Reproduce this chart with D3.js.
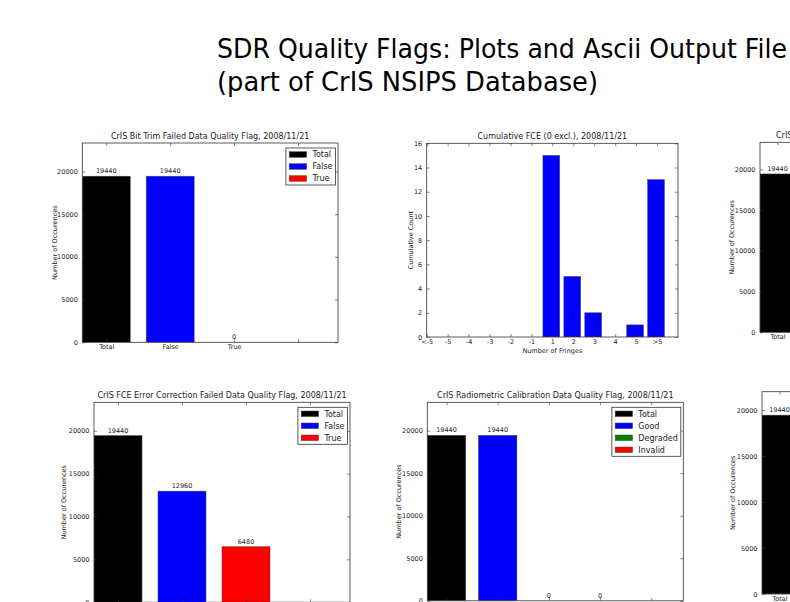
<!DOCTYPE html>
<html>
<head>
<meta charset="utf-8">
<script src="https://cdn.jsdelivr.net/npm/d3@7"></script>
<style>
  body { margin: 0; background: #fff; overflow: hidden; }
  svg { display: block; }
</style>
</head>
<body>
<div id="viz"></div>
<script>
// ========================================
// Data
// ========================================

var slideTitle = ["SDR Quality Flags: Plots and Ascii Output File",
                  "(part of CrIS NSIPS Database)"];
var slideTitleWidths = [570, 381];

var occTicks = [0, 5000, 10000, 15000, 20000];

var flagNames = ["Total", "False", "True"];
var flagColors = ["#000000", "#0000ff", "#ff0000"];
var bitTrimCounts = [19440, 19440, 0];
var fceFailCounts = [19440, 12960, 6480];

var calNames = ["Total", "Good", "Degraded", "Invalid"];
var calColors = ["#000000", "#0000ff", "#008000", "#ff0000"];
var radCalCounts = [19440, 19440, 0, 0];
var upperRightCounts = [19440, 19440, 0, 0]; // only "Total" is on the slide
var lowerRightCounts = [19440, 19440, 0, 0]; // only "Total" is on the slide

var fringeLabels = ["<-5", "-5", "-4", "-3", "-2", "-1", "1", "2", "3", "4", "5", ">5"];
var fringeCounts = [0, 0, 0, 0, 0, 0, 15, 5, 2, 0, 1, 13];
var fringeTicks = [0, 2, 4, 6, 8, 10, 12, 14, 16];

// ========================================
// SVG setup
// ========================================

var W = 790, H = 602;
var font = "DejaVu Sans";
var ink = "#222";

var svg = d3.select("#viz")
   .append("svg")
   .attr("width", W)
   .attr("height", H)
   .style("background-color", "#fff");

// slide heading (Tahoma-like: DejaVu squeezed to the measured width)
svg.selectAll(".slide-title")
   .data(slideTitle)
   .enter()
   .append("text")
   .attr("class", "slide-title")
   .attr("x", 217)
   .attr("y", (d, i) => 58 + i * 33)
   .attr("textLength", (d, i) => slideTitleWidths[i])
   .attr("lengthAdjust", "spacingAndGlyphs")
   .style("font-family", font)
   .style("font-size", "26px")
   .style("fill", "#000")
   .text(d => d);

// ========================================
// One matplotlib-like bar panel
// ========================================

var panelCount = 0;

function drawPanel(p) {
   var id = "clip" + (panelCount++);
   var g = svg.append("g")
      .style("font-family", font)
      .style("fill", ink);

   var x = d3.scaleLinear().domain(p.xDomain).range([p.x0, p.x1]);
   var y = d3.scaleLinear().domain([0, p.yMax]).range([p.y1, p.y0]);

   g.append("clipPath").attr("id", id)
      .append("rect")
      .attr("x", p.x0).attr("y", p.y0)
      .attr("width", p.x1 - p.x0).attr("height", p.y1 - p.y0);

   // bars
   g.append("g").attr("clip-path", `url(#${id})`)
      .selectAll("rect")
      .data(p.bars)
      .enter()
      .append("rect")
      .attr("x", d => x(d.pos))
      .attr("width", d => x(d.pos + p.barWidth) - x(d.pos))
      .attr("y", d => y(d.value))
      .attr("height", d => y(0) - y(d.value))
      .style("fill", d => d.color)
      .style("stroke", "#444")
      .style("stroke-width", 0.5);

   // value labels above bars
   if (p.valueLabels) {
      g.selectAll(".val")
         .data(p.bars)
         .enter()
         .append("text")
         .attr("class", "val")
         .attr("x", d => x(d.pos + p.barWidth / 2))
         .attr("y", d => y(d.value) - 3)
         .attr("text-anchor", "middle")
         .style("font-size", "6.5px")
         .text(d => d.value);
   }

   // axes: inward ticks on all four sides
   function styleAxis(a) {
      a.select(".domain").remove();
      a.selectAll("line").style("stroke", "#333").style("stroke-width", 0.6);
      a.selectAll("text").style("fill", ink).style("font-family", font).style("font-size", "6.5px");
   }

   g.append("g")
      .attr("transform", `translate(${p.x0},0)`)
      .call(d3.axisLeft(y).tickValues(p.yTicks).tickSize(-3).tickPadding(4.5).tickFormat(d3.format("d")))
      .call(styleAxis);
   g.append("g")
      .attr("transform", `translate(${p.x1},0)`)
      .call(d3.axisRight(y).tickValues(p.yTicks).tickSize(-3).tickFormat(""))
      .call(styleAxis);
   g.append("g")
      .attr("transform", `translate(0,${p.y1})`)
      .call(d3.axisBottom(x).tickValues(p.xTicks).tickSize(-3).tickPadding(2.5)
         .tickFormat((d, i) => p.xLabels[i] || ""))
      .call(styleAxis);
   g.append("g")
      .attr("transform", `translate(0,${p.y0})`)
      .call(d3.axisTop(x).tickValues(p.xTicks).tickSize(-3).tickFormat(""))
      .call(styleAxis);

   // frame
   g.append("rect")
      .attr("x", p.x0).attr("y", p.y0)
      .attr("width", p.x1 - p.x0).attr("height", p.y1 - p.y0)
      .style("fill", "none")
      .style("stroke", "#333")
      .style("stroke-width", 0.8);

   // title
   if (p.title) {
      g.append("text")
         .attr("x", p.titleX != null ? p.titleX : (p.x0 + p.x1) / 2)
         .attr("y", p.y0 - 4.5)
         .attr("text-anchor", p.titleX != null ? "start" : "middle")
         .style("font-size", "8px")
         .text(p.title);
   }

   // y label
   g.append("text")
      .attr("transform", `translate(${p.x0 - p.ylabelOffset},${(p.y0 + p.y1) / 2})rotate(-90)`)
      .attr("dy", "0.35em")
      .attr("text-anchor", "middle")
      .style("font-size", "6.5px")
      .text(p.ylabel);

   // x label
   if (p.xlabel) {
      g.append("text")
         .attr("x", (p.x0 + p.x1) / 2)
         .attr("y", p.y1 + 15.5)
         .attr("text-anchor", "middle")
         .style("font-size", "6.5px")
         .text(p.xlabel);
   }

   // legend
   if (p.legend) {
      var names = p.legend.names, rowH = 12;
      var lg = g.append("g");
      var box = lg.append("rect");
      var items = lg.selectAll(".item")
         .data(names)
         .enter()
         .append("g")
         .attr("class", "item");
      items.append("rect")
         .attr("x", 3.3)
         .attr("y", (d, i) => 6.5 + i * rowH - 2.8)
         .attr("width", 17.4)
         .attr("height", 5.6)
         .style("fill", (d, i) => p.legend.colors[i])
         .style("stroke", "#444")
         .style("stroke-width", 0.5);
      items.append("text")
         .attr("x", 26.5)
         .attr("y", (d, i) => 6.5 + i * rowH)
         .attr("dy", "0.35em")
         .style("font-size", "8px")
         .text(d => d);
      var maxW = d3.max(items.selectAll("text").nodes(), n => n.getComputedTextLength());
      var bw = 26.5 + maxW + 3, bh = names.length * rowH + 1;
      box.attr("width", bw).attr("height", bh)
         .style("fill", "#fff").style("stroke", "#333").style("stroke-width", 0.8);
      lg.attr("transform", `translate(${p.x1 - 2.5 - bw},${p.y0 + 5})`);
   }
}

// build a flag-style panel (categories in slots, bar width 0.75)
function flagPanel(geo, names, counts, colors, nSlots) {
   var bars = counts.map((v, i) => ({ pos: i, value: v, color: colors[i] }));
   var slots = d3.range(nSlots);
   return Object.assign({
      xDomain: [0, nSlots],
      yMax: 23328,
      yTicks: occTicks,
      barWidth: 0.75,
      bars: bars,
      xTicks: slots.map(i => i + 0.375),
      xLabels: names,
      valueLabels: true,
      ylabel: "Number of Occurences",
      legend: { names: names, colors: colors }
   }, geo);
}

// ========================================
// Panels
// ========================================

drawPanel(flagPanel({ x0: 82.3, x1: 338, y0: 143, y1: 342.3, ylabelOffset: 28,
   title: "CrIS Bit Trim Failed Data Quality Flag, 2008/11/21" },
   flagNames, bitTrimCounts, flagColors, 4));

drawPanel({
   x0: 426.7, x1: 678, y0: 143.3, y1: 337,
   xDomain: [0, fringeLabels.length],
   yMax: 16,
   yTicks: fringeTicks,
   barWidth: 0.8,
   bars: fringeCounts.map((v, i) => ({ pos: i - 0.45, value: v, color: "#0000ff" })),
   xTicks: d3.range(fringeLabels.length),
   xLabels: fringeLabels,
   valueLabels: false,
   title: "Cumulative FCE (0 excl.), 2008/11/21",
   ylabel: "Cumulative Count",
   ylabelOffset: 16,
   xlabel: "Number of Fringes"
});

// right-hand panels run off the slide; only their left part is visible
drawPanel(flagPanel({ x0: 760, x1: 993, y0: 142.3, y1: 332.3, ylabelOffset: 28, titleX: 776,
   title: "CrIS" },
   calNames, upperRightCounts, calColors, 5));

drawPanel(flagPanel({ x0: 94, x1: 350, y0: 402.3, y1: 602.2, ylabelOffset: 30,
   title: "CrIS FCE Error Correction Failed Data Quality Flag, 2008/11/21" },
   flagNames, fceFailCounts, flagColors, 4));

drawPanel(flagPanel({ x0: 427.3, x1: 683.3, y0: 402.3, y1: 600.8, ylabelOffset: 29,
   title: "CrIS Radiometric Calibration Data Quality Flag, 2008/11/21" },
   calNames, radCalCounts, calColors, 5));

drawPanel(flagPanel({ x0: 762, x1: 995, y0: 391.7, y1: 594, ylabelOffset: 29, yMax: 21990,
   title: null },
   calNames, lowerRightCounts, calColors, 5));

// drop texts that would sit wholly off the slide
svg.selectAll("text")
   .filter(function() { return this.getBoundingClientRect().left >= W; })
   .remove();
</script>
</body>
</html>
